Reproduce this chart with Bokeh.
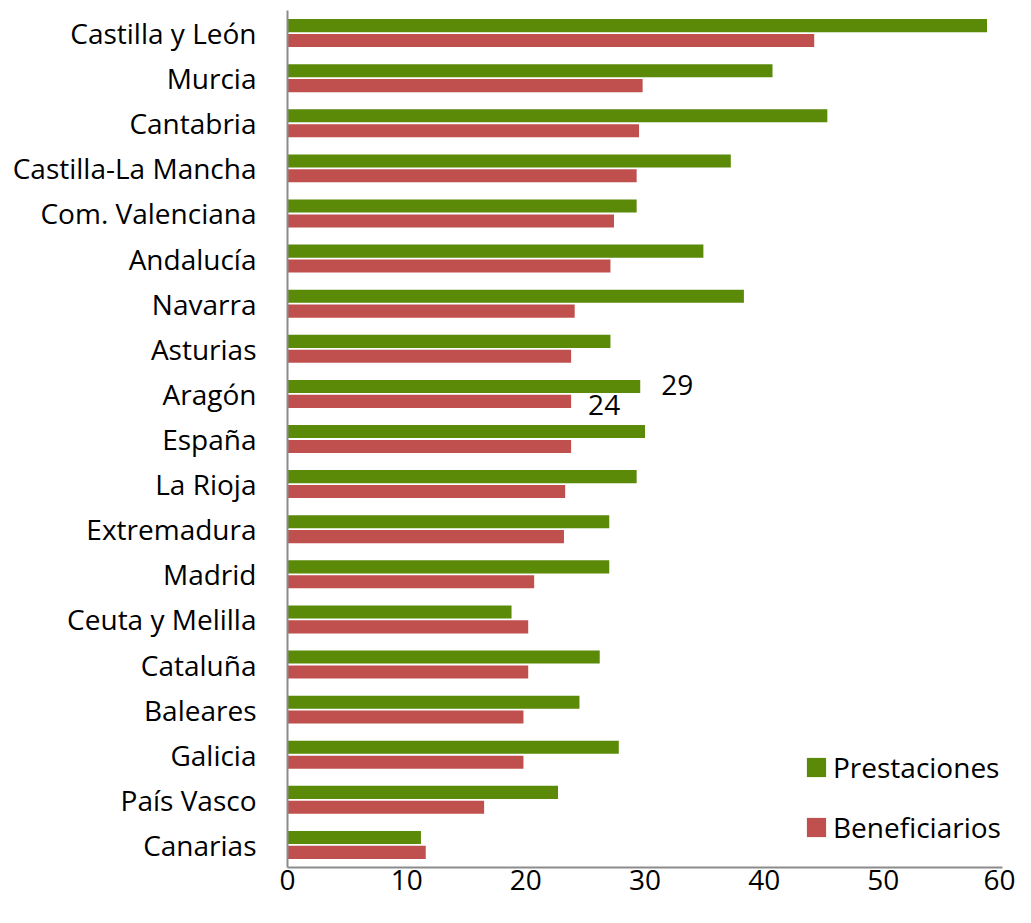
from bokeh.plotting import figure
from bokeh.models import FactorRange, Range1d, ColumnDataSource, Legend, LegendItem, FixedTicker
from bokeh.transform import dodge
from bokeh.core.properties import value
from bokeh.embed import file_html
from bokeh.resources import INLINE

regions = ["Castilla y León", "Murcia", "Cantabria", "Castilla-La Mancha", "Com. Valenciana",
           "Andalucía", "Navarra", "Asturias", "Aragón", "España", "La Rioja", "Extremadura",
           "Madrid", "Ceuta y Melilla", "Cataluña", "Baleares", "Galicia", "País Vasco", "Canarias"]
prestaciones = [58.7, 40.7, 45.3, 37.2, 29.3, 34.9, 38.3, 27.1, 29.6, 30.0, 29.3, 27.0,
                27.0, 18.8, 26.2, 24.5, 27.8, 22.7, 11.2]
beneficiarios = [44.2, 29.8, 29.5, 29.3, 27.4, 27.1, 24.1, 23.8, 23.8, 23.8, 23.3, 23.2,
                 20.7, 20.2, 20.2, 19.8, 19.8, 16.5, 11.6]
x_ticks = [0, 10, 20, 30, 40, 50, 60]
label_region = "Aragón"
label_prest = "29"
label_benef = "24"

FONT = "Open Sans"
FS = "28px"
GREEN = "#5A8A08"
RED = "#C0504D"

src = ColumnDataSource(dict(region=regions, prest=prestaciones, benef=beneficiarios))

p = figure(width=1015, height=907, output_backend="svg", toolbar_location=None,
           y_range=FactorRange(*reversed(regions), range_padding=0), x_range=Range1d(0, 60),
           min_border_left=287, min_border_right=13, min_border_top=10, min_border_bottom=40)
p.outline_line_color = None
p.grid.visible = False

g = p.hbar(y=dodge("region", 0.165, range=p.y_range), right="prest", left=0, height=0.29,
           source=src, fill_color=GREEN, line_color=None)
r = p.hbar(y=dodge("region", -0.165, range=p.y_range), right="benef", left=0, height=0.29,
           source=src, fill_color=RED, line_color=None)

i = regions.index(label_region)
p.text(x="x", y=dodge("y", 0.2, range=p.y_range), text="t",
       source=dict(x=[prestaciones[i]], y=[label_region], t=[label_prest]),
       x_offset=21, text_baseline="middle", text_font=value(FONT), text_font_size=FS,
       text_color="#000000")
p.text(x="x", y=dodge("y", -0.24, range=p.y_range), text="t",
       source=dict(x=[beneficiarios[i]], y=[label_region], t=[label_benef]),
       x_offset=17, text_baseline="middle", text_font=value(FONT), text_font_size=FS,
       text_color="#000000")

for ax in (p.xaxis[0], p.yaxis[0]):
    ax.axis_line_color = "#8C8C8C"
    ax.axis_line_width = 2
    ax.major_tick_line_color = None
    ax.minor_tick_line_color = None
    ax.major_tick_out = 0
    ax.major_tick_in = 0
    ax.major_label_text_font = FONT
    ax.major_label_text_font_size = FS
    ax.major_label_text_color = "#000000"

p.xaxis.ticker = FixedTicker(ticks=x_ticks)
p.xaxis.major_label_standoff = 2
p.yaxis.major_label_standoff = 31

legend = Legend(items=[LegendItem(label="Prestaciones", renderers=[g]),
                       LegendItem(label="Beneficiarios", renderers=[r])],
                location=(517, 21), border_line_color=None, background_fill_alpha=0,
                label_text_font=FONT, label_text_font_size=FS, label_text_color="#000000",
                glyph_width=24, glyph_height=24, spacing=22, label_standoff=5, padding=0, margin=0)
p.add_layout(legend)

open("out.html", "w").write(file_html(p, INLINE))
